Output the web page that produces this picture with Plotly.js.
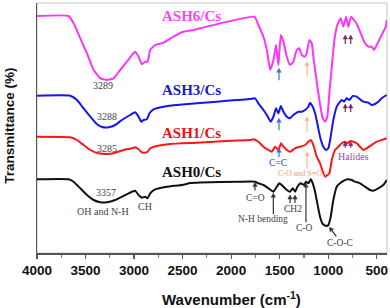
<!DOCTYPE html>
<html>
<head>
<meta charset="utf-8">
<script src="https://cdn.plot.ly/plotly-3.0.1.min.js"></script>
<style>html,body{margin:0;padding:0;background:#fff;}#chart{width:390px;height:308px;}</style>
</head>
<body>
<div id="chart"></div>
<script>
// Wavenumber (cm-1) and transmittance (arbitrary, offset)
const seriesNames = ["ASH6/Cs", "ASH3/Cs", "ASH1/Cs", "ASH0/Cs"];

const wnASH6 = [4000,3675,3623,3554,3485,3417,3348,3279,3211,3143,3074,3006,2988,2954,2919,2885,2861,2834,2782,2697,2594,2507,2388,2319,1760,1719,1667,1632,1598,1564,1537,1513,1488,1461,1426,1393,1359,1324,1297,1272,1238,1221,1194,1169,1153,1125,1091,1056,1032,1009,988,963,936,906,871,844,816,792,765,734,700,665,620,586,552,528,500,466,432,407,397];
const tASH6 = [237,237,229.7,214.7,199.7,183,174.7,173,174.7,183,191.3,199.7,201.3,196.3,188.7,191.3,191.3,203,208,210.3,216.3,220.7,223,224.7,236.3,228,216.3,203,183,193,208,188,218,211.3,196.3,188,191.3,203,204.7,198,196.3,199.7,213,209.7,196.3,176.3,153,134.7,131.3,136.3,159.7,186.3,213,228,234.7,226.3,236.3,226.3,236.3,233,228,219.7,209.7,206.3,206.3,203,208,214.7,221.3,226.3,233];

const wnASH3 = [4000,3657,3588,3520,3451,3382,3331,3263,3194,3125,3040,2988,2954,2926,2903,2868,2841,2800,2697,2594,2353,2147,1941,1804,1753,1719,1667,1632,1591,1564,1537,1513,1488,1461,1426,1393,1359,1307,1272,1238,1204,1187,1159,1135,1112,1084,1050,1022,998,974,947,912,885,860,837,809,782,747,706,672,638,586,552,518,484,449,415,397];
const tASH3 = [157.3,157.3,153,144.7,136.3,128.7,126,125.7,128,133,138,140.7,136.3,131.3,133,133.7,139.7,143.7,146.3,147.7,149.7,151.3,153,154,154.7,149.7,143,138,131.3,136.3,144.7,139.7,147,141.3,136.3,134.7,138,141.3,141.3,143,146.3,150.3,146.3,139.7,129.7,116.3,106.3,103,104.7,116.3,133,146.3,150.3,153,151.3,154.7,153,157,156.3,153.7,151.3,150.3,148,149,151.3,154.7,157,158];

const wnASH1 = [4000,3657,3588,3520,3451,3366,3279,3194,3109,3022,2988,2954,2919,2885,2861,2834,2765,2628,2353,2010,1804,1770,1719,1667,1616,1581,1547,1513,1485,1461,1426,1393,1341,1290,1238,1204,1179,1153,1118,1084,1032,988,963,929,895,860,826,803,768,741,706,672,638,603,552,500,449,397];
const tASH1 = [116.3,115.7,113,108,103,99.7,99,100.3,103,104.7,105.7,103.7,100.7,100.3,101.3,104.7,107,109,110.3,112.3,113,113.7,111.3,106.3,103,101.3,106.3,103,109.7,106.3,103,101.3,104.7,106.3,108,111.3,113,108,96.3,89.7,76.3,79.7,93,103,106.3,109.7,111.3,109.7,112,111.3,109.7,106.3,103,104.7,108,111.3,113,114.7];

const wnASH0 = [4000,3675,3623,3554,3485,3417,3348,3279,3194,3109,3022,2988,2954,2919,2885,2861,2834,2782,2662,2491,2422,2319,1907,1753,1719,1667,1616,1564,1529,1503,1468,1426,1393,1365,1341,1317,1282,1248,1228,1204,1179,1159,1135,1112,1084,1056,1022,998,974,947,912,878,837,803,757,723,672,620,569,535,484,432,397];
const tASH0 = [73.7,73.7,71.3,64.7,58,53,50.7,50.7,53,57,61.3,62.3,58,55.3,56.3,54.7,59.7,63.7,66.3,68.3,70,70.5,71.3,71.3,69.7,68,64.7,61.3,66.3,69.7,67,63,61.3,64.7,61.3,66.3,69.7,68,71.3,69.7,73.7,69.7,61.3,49.7,36.3,29,27,28,36.3,53,66.3,69.7,72.3,73.7,73,71.3,69.7,66.3,63,62.3,64.7,68,73];

const xTickVals = [4000,3500,3000,2500,2000,1500,1000,500];
const xTickText = ["4000","3500","3000","2500","2000","1500","1000","500"];

const colors = ["#ff33ff", "#1515ee", "#ff1515", "#111111"];
const xs = [wnASH6, wnASH3, wnASH1, wnASH0];
const ys = [tASH6, tASH3, tASH1, tASH0];

const traces = xs.map((x, i) => ({
  type: "scatter", mode: "lines", x: x, y: ys[i], name: seriesNames[i],
  line: {color: colors[i], width: 2, shape: "spline", smoothing: 0.4},
  hoverinfo: "skip"
}));

const serif = "Liberation Serif, Times New Roman, serif";
function txt(text, x, y, size, color) {
  return {text: text, x: x, y: y, xref: "x", yref: "y", showarrow: false,
    font: {family: serif, size: size, color: color}, xanchor: "center", yanchor: "middle"};
}
// arrow drawn as a pixel-sized path shape anchored at its tip; (dx, dy) = tail offset, dy>0 means below
function arrowShapes(x, y, dx, dy, color) {
  const len = Math.hypot(dx, dy);
  const ux = -dx / len, uy = dy / len; // direction tail->tip in pixel-up coords
  const tx = dx, ty = -dy;             // tail in pixel-up coords
  const hl = 4, hw = 2.2;
  const bx = -ux * hl, by = -uy * hl;  // base centre of head
  const px = -uy * hw, py = ux * hw;
  const common = {type: "path", xref: "x", yref: "y", xsizemode: "pixel", ysizemode: "pixel",
    xanchor: x, yanchor: y, layer: "above"};
  return [
    Object.assign({}, common, {path: `M${tx},${ty} L${bx},${by}`, line: {color: color, width: 1.2}}),
    Object.assign({}, common, {path: `M0,0 L${bx + px},${by + py} L${bx - px},${by - py} Z`,
      fillcolor: color, line: {color: color, width: 0.5}})
  ];
}

const annotations = [
  txt("<b>ASH6/Cs</b>", 2413, 237, 15, "#ff44ff"),
  txt("<b>ASH3/Cs</b>", 2413, 163, 15, "#1a1acc"),
  txt("<b>ASH1/Cs</b>", 2413, 120, 15, "#ee1111"),
  txt("<b>ASH0/Cs</b>", 2413, 81, 15, "#111111"),
  txt("3289", 3320, 168, 10, "#444"),
  txt("3288", 3282, 136.3, 10, "#444"),
  txt("3285", 3282, 104.7, 10, "#444"),
  txt("3357", 3289, 60.7, 10, "#444"),
  txt("OH and N-H", 3317, 42, 10, "#444"),
  txt("CH", 2887, 46.3, 10, "#444"),
  txt("C=O", 1754, 55.3, 9.5, "#444"),
  txt("N-H bending", 1672, 33.7, 9.5, "#444"),
  txt("CH2", 1360, 43.7, 9.5, "#444"),
  txt("C-O", 1239, 24.7, 9.5, "#444"),
  txt("C-O-C", 878, 10.3, 9.5, "#444"),
  txt("C=C", 1514, 90.3, 9.5, "#2244ee"),
  txt("C-O and S=O", 1290, 80, 8, "#f39a7c"),
  txt("Halides", 744, 97, 10, "#a0449a"),
  {text: "<b>Wavenumber (cm<sup>-1</sup>)</b>", xref: "paper", yref: "paper", x: 0.557, y: -0.18,
   showarrow: false, xanchor: "center", yanchor: "middle",
   font: {family: "Liberation Sans, Arial, sans-serif", size: 15, color: "#111"}},
  {text: "<b>Transmittance (%)</b>", xref: "paper", yref: "paper", x: -0.079, y: 0.51,
   showarrow: false, xanchor: "center", yanchor: "middle", textangle: -90,
   font: {family: "Liberation Sans, Arial, sans-serif", size: 13.5, color: "#111"}}
];

const arrowSpecs = [
  [1754, 70.5, 0, 8, "#333"], [1565, 59.7, 0, 21, "#333"], [1393, 58, 0, 8, "#333"],
  [1342, 58, 0, 8, "#333"], [1229, 69.7, 0, 39, "#333"], [988, 25.7, 7, 9, "#333"],
  [1507, 184.7, 0, 12, "#4466dd"], [1507, 134.7, 0, 12, "#4466dd"], [1507, 104.7, 0, 9, "#4466dd"],
  [1218, 191.3, 0, 15, "#f8b49a"], [1218, 136.3, 0, 15, "#f8b49a"], [1218, 101.3, 0, 17, "#f8b49a"],
  [824, 218, 0, 9, "#7a2a5a"], [768, 218, 0, 9, "#7a2a5a"], [824, 149, 0, 8, "#7a2a5a"],
  [768, 149, 0, 8, "#7a2a5a"], [824, 111.3, 0, 6, "#7a2a5a"], [768, 111.3, 0, 6, "#7a2a5a"]
];

const shapes = [{type: "rect", xref: "paper", yref: "paper", x0: 0, x1: 1, y0: 0, y1: 1,
  line: {color: "#c4c4c4", width: 1}, layer: "below"}];
arrowSpecs.forEach(a => shapes.push(...arrowShapes(a[0], a[1], a[2], a[3], a[4])));

const layout = {
  width: 390, height: 308,
  margin: {l: 37, r: 3, t: 3, b: 55, pad: 0},
  paper_bgcolor: "#fff", plot_bgcolor: "#fff",
  showlegend: false,
  xaxis: {
    range: [4000, 394], tickvals: xTickVals, ticktext: xTickText,
    ticks: "outside", ticklen: 4, tickwidth: 1.2, tickcolor: "#555",
    minor: {dtick: 250, tick0: 0, ticks: "outside", ticklen: 3, tickcolor: "#777", showgrid: false},
    showgrid: false, zeroline: false, showline: true, linecolor: "#555", linewidth: 1.5,
    tickfont: {family: "Liberation Sans, Arial, sans-serif", size: 13.5, color: "#111", weight: "bold"}
  },
  yaxis: {
    range: [0, 250], showticklabels: false, ticks: "", showgrid: false, zeroline: false,
    showline: true, linecolor: "#555", linewidth: 1.5
  },
  shapes: shapes,
  annotations: annotations
};

Plotly.newPlot("chart", traces, layout, {staticPlot: true, displayModeBar: false});
</script>
</body>
</html>
